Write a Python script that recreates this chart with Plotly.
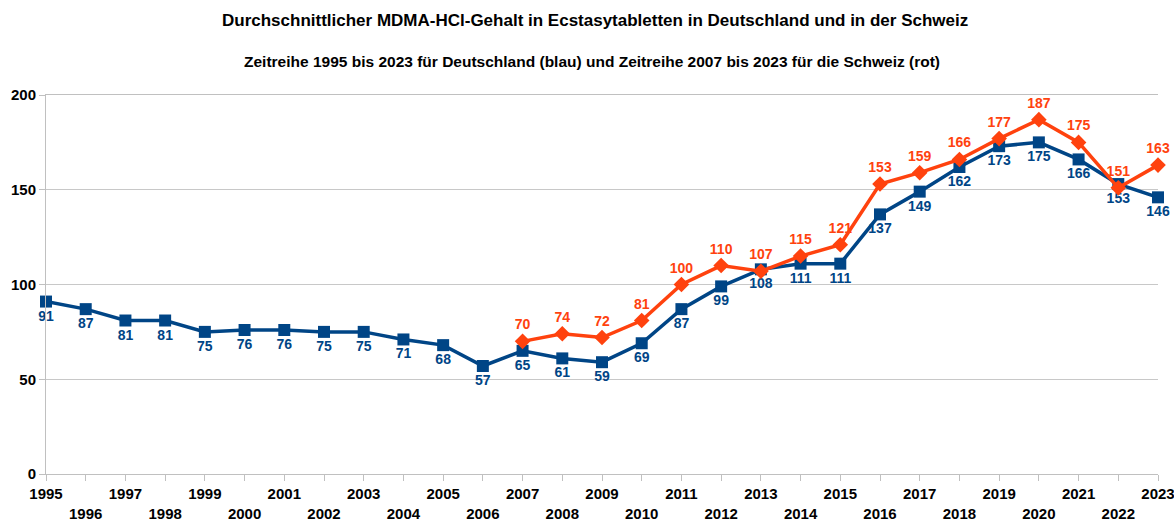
import plotly.graph_objects as go

years = list(range(1995, 2024))
de_values = [91, 87, 81, 81, 75, 76, 76, 75, 75, 71, 68, 57, 65, 61, 59, 69, 87, 99, 108, 111, 111, 137, 149, 162, 173, 175, 166, 153, 146]
ch_years = list(range(2007, 2024))
ch_values = [70, 74, 72, 81, 100, 110, 107, 115, 121, 153, 159, 166, 177, 187, 175, 151, 163]
tick_labels = [str(y) if y % 2 == 1 else "<br>" + str(y) for y in years]

BLUE = "#004586"
RED = "#ff420e"
FONT = "Liberation Sans, Arial, sans-serif"

W, H = 1174, 520
L, R, T, B = 46, 16, 95, 46

fig = go.Figure()
fig.add_trace(go.Scatter(
    x=years, y=de_values, mode="lines+markers+text",
    line=dict(color=BLUE, width=3.5),
    marker=dict(symbol="square", size=12, color=BLUE),
    text=[str(v) for v in de_values], textposition="bottom center",
    textfont=dict(color=BLUE, size=14, family=FONT, weight="bold"),
    cliponaxis=False, showlegend=False,
))
fig.add_trace(go.Scatter(
    x=ch_years, y=ch_values, mode="lines+markers+text",
    line=dict(color=RED, width=3.5),
    marker=dict(symbol="diamond", size=12, color=RED),
    text=[str(v) for v in ch_values], textposition="top center",
    textfont=dict(color=RED, size=14, family=FONT, weight="bold"),
    cliponaxis=False, showlegend=False,
))

plot_h = H - T - B
plot_w = W - L - R
def ypix(p):
    return (H - B - p) / plot_h
def xpix(p):
    return (p - L) / plot_w

fig.update_layout(
    width=W, height=H,
    margin=dict(l=L, r=R, t=T, b=B, autoexpand=False),
    paper_bgcolor="white", plot_bgcolor="white",
    font=dict(family=FONT, color="#000000"),
)
fig.add_annotation(text="<b>Durchschnittlicher MDMA-HCl-Gehalt in Ecstasytabletten in Deutschland und in der Schweiz</b>",
                   xref="paper", yref="paper", x=xpix(595), xanchor="center",
                   y=ypix(20), yanchor="middle", showarrow=False,
                   font=dict(size=17, family=FONT, color="#000"))
fig.add_annotation(text="<b>Zeitreihe 1995 bis 2023 für Deutschland (blau) und Zeitreihe 2007 bis 2023 für die Schweiz (rot)</b>",
                   xref="paper", yref="paper", x=xpix(592), xanchor="center",
                   y=ypix(61), yanchor="middle", showarrow=False,
                   font=dict(size=15.5, family=FONT, color="#000"))

fig.update_xaxes(
    range=[1995, 2023], tickmode="array", tickvals=years, ticktext=tick_labels,
    showgrid=False, showline=True, linecolor="#c0c0c0", linewidth=1, mirror=True,
    ticks="outside", ticklen=6, tickcolor="#c0c0c0",
    tickfont=dict(size=15, family=FONT, color="#000", weight="bold"),
    ticklabeloverflow="allow",
    zeroline=False, automargin=False,
)
fig.update_yaxes(
    range=[0, 200], tickvals=[0, 50, 100, 150, 200],
    showgrid=True, gridcolor="#c8c8c8", gridwidth=1,
    showline=True, linecolor="#c0c0c0", linewidth=1,
    ticks="outside", ticklen=6, tickcolor="#c0c0c0",
    tickfont=dict(size=15, family=FONT, color="#000", weight="bold"),
    ticklabeloverflow="allow",
    zeroline=False, automargin=False,
)

fig.write_html("out.html", config={"displayModeBar": False},
               post_script="document.body.style.margin='0';document.body.style.overflow='hidden';")
